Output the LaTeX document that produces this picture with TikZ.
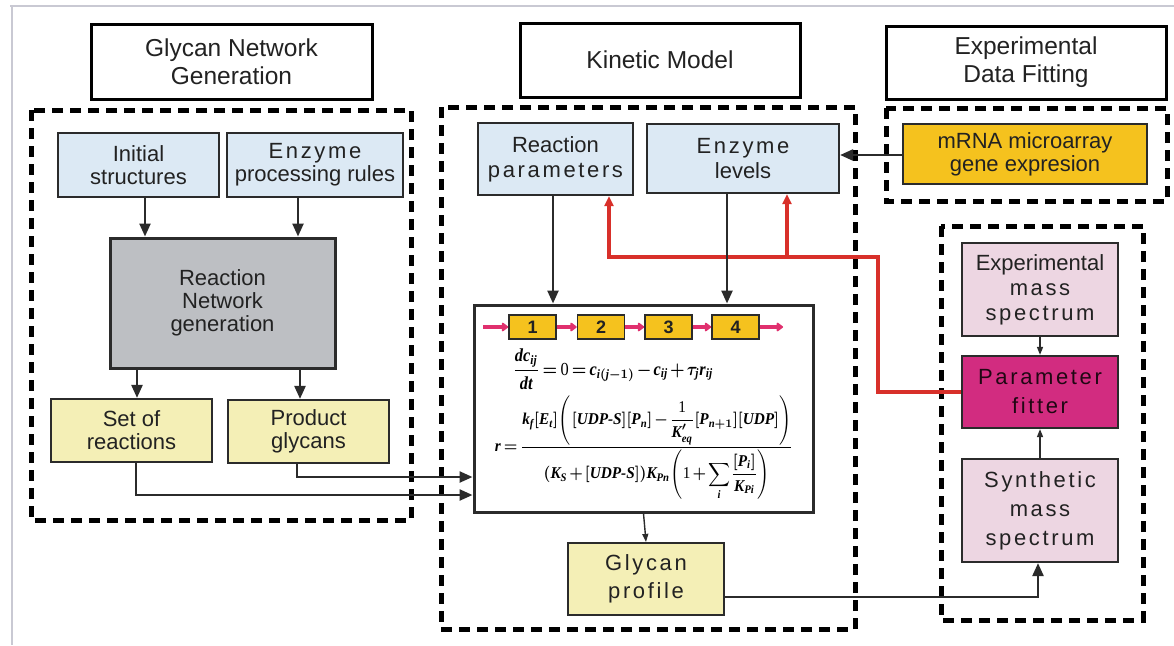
\documentclass[tikz,border=0pt]{standalone}
\usepackage{fontspec}
\setmainfont{Liberation Sans}
\newfontfamily\eqserif{Liberation Serif}
\usepackage{amsmath}
\usepackage{graphicx}
\usetikzlibrary{arrows.meta,calc}

\definecolor{txt}{HTML}{222222}
\definecolor{edge}{HTML}{2B2B2B}
\definecolor{lblue}{HTML}{DCE9F4}
\definecolor{rgray}{HTML}{BDBFC3}
\definecolor{pyellow}{HTML}{F4EFB6}
\definecolor{gold}{HTML}{F5C21E}
\definecolor{lpink}{HTML}{EDD6E2}
\definecolor{magen}{HTML}{D22C80}
\definecolor{pinkc}{HTML}{E0306E}
\definecolor{redc}{HTML}{D8302A}
\definecolor{frame}{HTML}{C9C9D3}

\newcommand\spc[1]{{\addfontfeature{LetterSpace=12}#1}}
% bold italic serif symbols for the rate equations
\newcommand\tb[1]{\text{\eqserif\bfseries\itshape #1}}
\newcommand\tr[1]{\text{\eqserif #1}}
% compact operator spacing inside the equation box
\newcommand\tightmath{\medmuskip=2mu plus 1mu\thickmuskip=3mu plus 1mu\thinmuskip=1mu}

\begin{document}
\begin{tikzpicture}[x=1pt,y=-1pt,
  bx/.style={draw=edge, line width=2.2pt, align=center, inner sep=0pt, text=txt,
    font=\fontsize{22}{23}\selectfont},
  ttl/.style={draw=black, line width=3pt, align=center, inner sep=0pt, fill=white, text=txt,
    font=\fontsize{24.5}{28}\selectfont},
  grp/.style={draw=black, line width=5pt, dash pattern=on 11pt off 7pt},
  arr/.style={draw=edge, line width=2.4pt, -{Triangle[length=13pt,width=11pt]}},
  tarr/.style={draw=edge, line width=1.4pt, -{Triangle[length=8pt,width=6pt]}},
  redarr/.style={draw=redc, line width=3.4pt, -{Triangle[length=10pt,width=9pt]}},
  pipe/.style={draw=pinkc, line width=3.8pt, -{Triangle[round,length=7pt,width=10pt]}},
  stage/.style={draw=edge, line width=1.6pt, fill=gold, inner sep=0pt,
    minimum width=47pt, minimum height=24pt, font=\fontsize{18}{18}\selectfont\bfseries, text=txt}]

\useasboundingbox (0,0) rectangle (1174,645);
\fill[white] (0,0) rectangle (1174,645);

% outer frame edges
\draw[frame, line width=2pt] (10,6) -- (1174,6);
\draw[frame, line width=2pt] (12,6) -- (12,645);

% section headers
\node[ttl, minimum width=281pt, minimum height=75pt] (tGNG) at (231.5,61.5) {Glycan Network\\Generation};
\node[ttl, minimum width=280pt, minimum height=74pt] (tKM) at (660,60) {Kinetic Model};
\node[ttl, minimum width=280pt, minimum height=73pt] (tEDF) at (1026,62.5) {Experimental\\Data Fitting};

% dashed groupings
\draw[grp] (31,110) rectangle (411,520);
\draw[grp] (441,107) rectangle (855,629);
\draw[grp] (886,108) rectangle (1167,201);
\draw[grp] (941,226) rectangle (1143,620);

% network generation
\node[bx, fill=lblue, minimum width=161pt, minimum height=64pt] (init) at (138.5,165) {Initial\\structures};
\node[bx, fill=lblue, minimum width=176pt, minimum height=64pt] (rules) at (315,165) {\spc{Enzyme}\\processing rules};
\node[bx, fill=rgray, line width=3pt, minimum width=225pt, minimum height=130pt] (rng) at (222.5,303) {Reaction\\Network\\generation};
\node[bx, fill=pyellow, minimum width=161pt, minimum height=63pt] (setr) at (131.5,430.5) {Set of\\reactions};
\node[bx, fill=pyellow, minimum width=161pt, minimum height=63pt] (prod) at (308.5,431.5) {Product\\glycans};

% kinetic model
\node[bx, fill=lblue, minimum width=155pt, minimum height=72pt, font=\fontsize{22}{25}\selectfont] (rpar) at (555.5,159) {Reaction\\\spc{parameters}};
\node[bx, fill=lblue, minimum width=192pt, minimum height=69pt, font=\fontsize{22}{25}\selectfont] (elev) at (743,158.5) {\spc{Enzyme}\\levels};
\node[draw=edge, line width=3pt, fill=white, minimum width=339pt, minimum height=207pt, inner sep=0pt] (eqbox) at (643.5,408.5) {};
\node[bx, fill=pyellow, minimum width=156pt, minimum height=72pt, font=\fontsize{22}{28}\selectfont] (gprof) at (646,579) {\spc{Glycan}\\\spc{profile}};

% data fitting
\node[bx, fill=gold, minimum width=244pt, minimum height=60pt] (mrna) at (1025,154) {mRNA microarray\\gene expresion};
\node[bx, fill=lpink, minimum width=156pt, minimum height=93pt, font=\fontsize{22}{25}\selectfont] (expms) at (1040,289.5) {Experimental\\\spc{mass}\\\spc{spectrum}};
\node[bx, fill=magen, minimum width=156pt, minimum height=72pt, text=black!85!magen, font=\fontsize{22}{29}\selectfont] (pfit) at (1040,392) {\spc{Parameter}\\\spc{fitter}};
\node[bx, fill=lpink, minimum width=156pt, minimum height=103pt, font=\fontsize{22}{29}\selectfont] (synms) at (1040,510.5) {\spc{Synthetic}\\\spc{mass}\\\spc{spectrum}};

% reaction compartments
\coordinate (pstart) at (483,327);
\coordinate (pend) at (783,327);
\node[stage] (s1) at (532.5,327) {1};
\node[stage] (s2) at (601,327) {2};
\node[stage] (s3) at (668.5,327) {3};
\node[stage] (s4) at (735.5,327) {4};
\draw[pipe] (pstart) -- (s1.west);
\draw[pipe] (s1.east) -- (s2.west);
\draw[pipe] (s2.east) -- (s3.west);
\draw[pipe] (s3.east) -- (s4.west);
\draw[pipe] (s4.east) -- (pend);

% model equations
\node[inner sep=0pt] (eq1) at (613,369) {\scalebox{1}[1.12]{\resizebox{200pt}{!}{\tightmath\boldmath$\dfrac{\tb{dc}_{\tb{ij}}}{\tb{dt}}=\tr{0}=\tb{c}_{\tb{i}(\tb{j}-1)}-\tb{c}_{\tb{ij}}+\tau_{\tb{j}}\tb{r}_{\tb{ij}}$}}};
\node[inner sep=0pt] (eq2) at (644,448) {\scalebox{1}[1.08]{\resizebox{298pt}{!}{\tightmath\boldmath$\tb{r}=\dfrac{\tb{k}_{\tb{f}}[\tb{E}_{\tb{t}}]\left(\,[\tb{UDP-S}][\tb{P}_{\tb{n}}]-\dfrac{\tr{1}}{\tb{K}'_{\tb{eq}}}[\tb{P}_{\tb{n}+1}][\tb{UDP}]\right)}{(\tb{K}_{\tb{S}}+[\tb{UDP-S}])\tb{K}_{\tb{Pn}}\left(\tr{1}+\displaystyle\sum_{\tb{i}}\dfrac{[\tb{P}_{\tb{i}}]}{\tb{K}_{\tb{Pi}}}\right)}$}}};

% red feedback from the fitter
\coordinate (rx) at (878,0);
\coordinate (ry) at (0,257);
\coordinate (ra) at (609,0);
\coordinate (rb) at (787,0);
\draw[redarr] (pfit.west) -- (pfit.west -| rx) -- (rx |- ry) -- (ra |- ry) -- (ra |- rpar.south);
\draw[redarr] (rb |- ry) -- (rb |- elev.south);

% black connectors
\coordinate (a1) at (145,0);
\coordinate (a2) at (298,0);
\coordinate (a3) at (137,0);
\coordinate (a4) at (300,0);
\draw[arr] (init.south -| a1) -- (rng.north -| a1);
\draw[arr] (rules.south -| a2) -- (rng.north -| a2);
\draw[arr] (rng.south -| a3) -- (setr.north -| a3);
\draw[arr] (rng.south -| a4) -- (prod.north -| a4);

\coordinate (b1) at (136,495);
\coordinate (b2) at (297,477);
\draw[arr] (setr.south -| b1) -- (b1) -- (eqbox.west |- b1);
\draw[arr] (prod.south -| b2) -- (b2) -- (eqbox.west |- b2);

\coordinate (c1) at (553,0);
\coordinate (c2) at (727,0);
\draw[arr] (rpar.south -| c1) -- (eqbox.north -| c1);
\draw[arr] (elev.south -| c2) -- (eqbox.north -| c2);

\coordinate (m1) at (0,155);
\draw[arr] (mrna.west |- m1) -- (elev.east |- m1);
\draw[tarr] (eqbox.south) -- (gprof.north);

\coordinate (d1) at (1038,597);
\draw[arr] (gprof.east |- d1) -- (d1) -- (synms.south -| d1);
\draw[tarr] (expms.south) -- (pfit.north);
\draw[tarr] (synms.north) -- (pfit.south);

\end{tikzpicture}
\end{document}
